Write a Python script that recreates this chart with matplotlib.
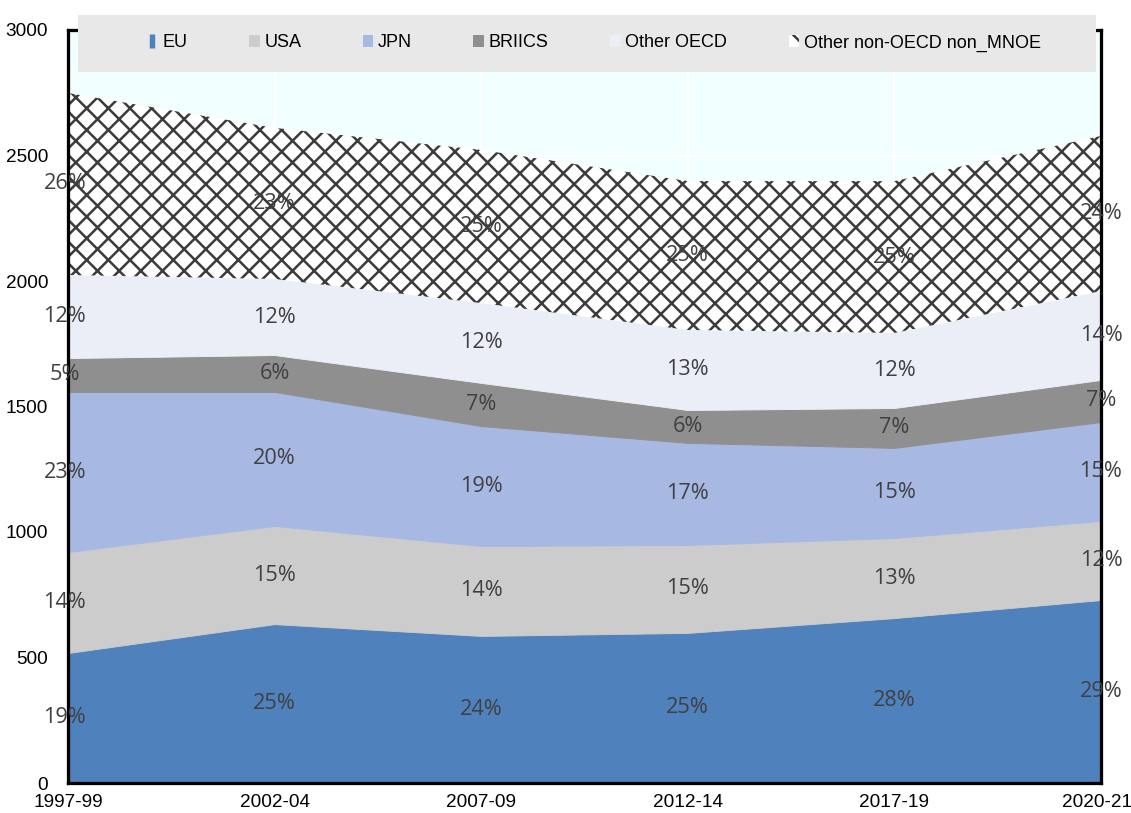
import matplotlib
matplotlib.use("Agg")
import matplotlib.pyplot as plt
import matplotlib.transforms as mtransforms
import numpy as np
from matplotlib.patches import Patch, Rectangle
from matplotlib.lines import Line2D

periods = ["1997-99", "2002-04", "2007-09", "2012-14", "2017-19", "2020-21"]
series_names = ["EU", "USA", "JPN", "BRIICS", "Other OECD", "Other non-OECD non_MNOE"]
eu = [518, 633, 586, 598, 657, 729]
usa = [402, 391, 358, 350, 319, 315]
jpn = [638, 534, 478, 407, 359, 394]
briics = [135, 147, 172, 131, 159, 168]
other_oecd = [331, 303, 318, 319, 299, 354]
other_non_oecd = [725, 602, 610, 593, 605, 618]

pct_eu = [19, 25, 24, 25, 28, 29]
pct_usa = [14, 15, 14, 15, 13, 12]
pct_jpn = [23, 20, 19, 17, 15, 15]
pct_briics = [5, 6, 7, 6, 7, 7]
pct_other_oecd = [12, 12, 12, 13, 12, 14]
pct_other_non_oecd = [26, 23, 25, 25, 25, 24]

colors = ["#4F81BD", "#CCCCCC", "#A7B9E3", "#8F8F8F", "#EBEEF7", "#FFFFFF"]

DPI = 130
plt.rcParams['font.family'] = ['Liberation Sans', 'DejaVu Sans']
plt.rcParams['hatch.linewidth'] = 1.4
plt.rcParams['hatch.color'] = '#3C3C3C'

fig = plt.figure(figsize=(1131 / DPI, 813 / DPI), dpi=DPI)
ax = fig.add_axes([68 / 1131, 30 / 813, 1033 / 1131, 753 / 813])
ax.set_facecolor("#F2FFFF")

x = np.arange(len(periods))
data = [eu, usa, jpn, briics, other_oecd, other_non_oecd]
pcts = [pct_eu, pct_usa, pct_jpn, pct_briics, pct_other_oecd, pct_other_non_oecd]

base = np.zeros(len(periods))
for i, (vals, col) in enumerate(zip(data, colors)):
    top = base + np.array(vals, dtype=float)
    if i == 5:
        ax.fill_between(x, base, top, facecolor="white", edgecolor="#3C3C3C",
                        hatch="xx", linewidth=0, zorder=2)
    else:
        ax.fill_between(x, base, top, facecolor=col, edgecolor=col,
                        linewidth=0.5, zorder=2)
    mid = (base + top) / 2
    for xi, yi, p in zip(x, mid, pcts[i]):
        ax.text(xi - (0.015 if xi == 0 else 0), yi, f"{p}%", ha="center", va="center",
                fontsize=12, color="#404040", family=["Open Sans", "DejaVu Sans"], zorder=5)
    base = top

ax.set_xlim(0, 5)
ax.set_ylim(0, 3000)
ax.set_xticks(x)
ax.set_xticklabels(periods)
ax.set_yticks(np.arange(0, 3001, 500))
ax.grid(True, color="white", linewidth=1.2)
ax.set_axisbelow(True)
ax.tick_params(axis="y", direction="in", length=4, width=1.5, pad=11, labelsize=10.5)
ax.tick_params(axis="x", direction="in", length=5, width=1.5, pad=6, labelsize=10.5)
for s in ax.spines.values():
    s.set_linewidth(1.8)
    s.set_color("black")

last = ax.get_xticklabels()[-1]
last.set_transform(last.get_transform() + mtransforms.ScaledTranslation(-4 / DPI, 0, fig.dpi_scale_trans))

# legend band
band = Rectangle((78 / 1131, (813 - 72) / 813), 1018 / 1131, 57 / 813,
                 transform=fig.transFigure, facecolor="#E8E8E8", edgecolor="none", zorder=5)
fig.patches.append(band)

handles = [
    Line2D([], [], linestyle="none", marker="|", markersize=8, markeredgewidth=3, color=colors[0]),
    Patch(facecolor=colors[1], edgecolor="none"),
    Patch(facecolor=colors[2], edgecolor="none"),
    Patch(facecolor=colors[3], edgecolor="none"),
    Patch(facecolor=colors[4], edgecolor="none"),
    Patch(facecolor="white", edgecolor="#3C3C3C", hatch="\\\\", linewidth=0),
]
leg = fig.legend(handles, series_names, loc="center", bbox_to_anchor=(594 / 1131, 1 - 43 / 813),
                 ncol=6, frameon=False, fontsize=10, handlelength=0.6, handleheight=0.6,
                 handletextpad=0.25, columnspacing=3.4)
leg.set_zorder(6)

fig.savefig("out.png", dpi=DPI)
